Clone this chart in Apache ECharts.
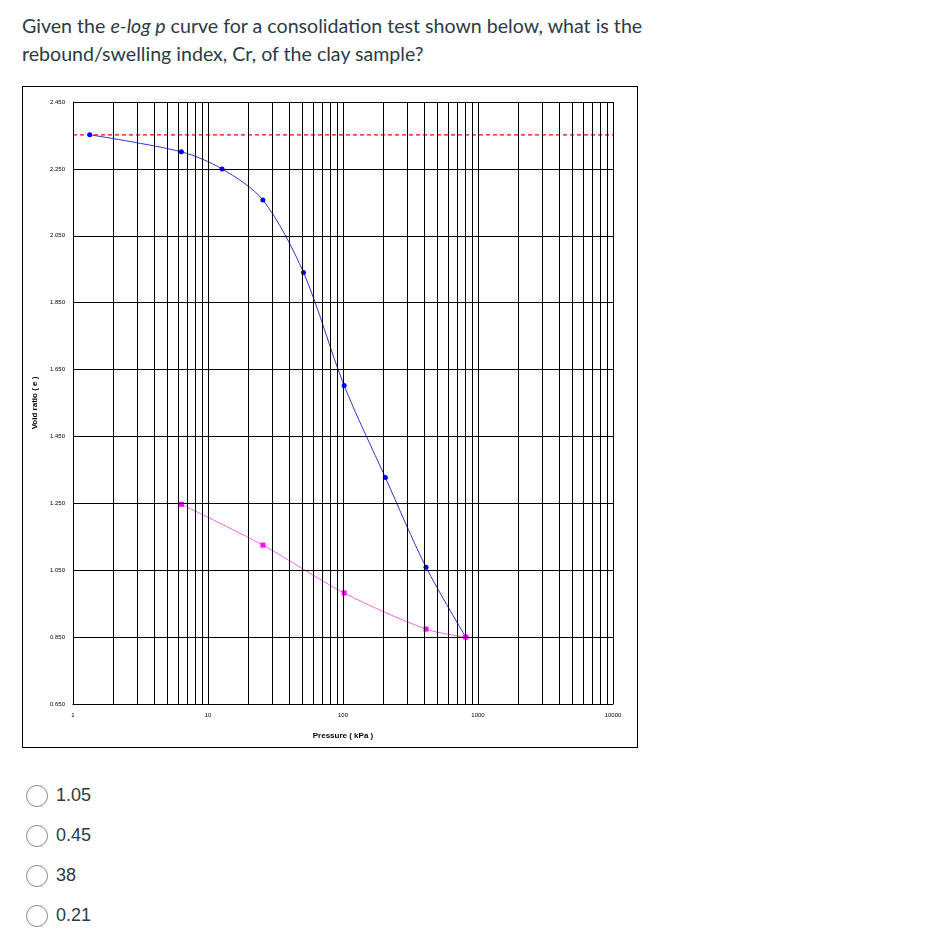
<!DOCTYPE html>
<html>
<head>
<meta charset="utf-8">
<script src="https://cdn.jsdelivr.net/npm/echarts@6/dist/echarts.min.js"></script>
<style>
  body { margin: 0; background: #fff; font-family: Lato, sans-serif; }
  #q { position: absolute; left: 22px; top: 12px; font-size: 19.6px; line-height: 28px; color: #2d3b45; }
  #box { position: absolute; left: 22px; top: 86px; width: 614px; height: 660px; border: 1px solid #000; }
  #chart { width: 614px; height: 660px; }
  .opt { position: absolute; left: 26px; font-family: "Liberation Sans", Arial, sans-serif; font-size: 18px; color: #2d3b45; }
  .opt span { display: inline-block; width: 20px; height: 20px; border: 1px solid #888; border-radius: 50%; vertical-align: middle; margin-right: 8px; }
</style>
</head>
<body>
<div id="q">Given the <i>e-log p</i> curve for a consolidation test shown below, what is the<br>rebound/swelling index, Cr, of the clay sample?</div>
<div id="box"><div id="chart"></div></div>
<div class="opt" style="top:785px"><span></span>1.05</div>
<div class="opt" style="top:825px"><span></span>0.45</div>
<div class="opt" style="top:865px"><span></span>38</div>
<div class="opt" style="top:905px"><span></span>0.21</div>
<script>
// loading branch
var loadP = [1.33, 6.35, 12.7, 25.5, 51, 102, 206, 412, 812];
var loadE = [2.352, 2.301, 2.25, 2.157, 1.94, 1.602, 1.327, 1.059, 0.85];
// unloading branch
var unloadP = [6.35, 25.5, 102, 412, 812];
var unloadE = [1.247, 1.125, 0.982, 0.874, 0.85];
var e0 = 2.352;
var yTicks = [0.65, 0.85, 1.05, 1.25, 1.45, 1.65, 1.85, 2.05, 2.25, 2.45];

var vLines = [];
for (var k = 0; k < 4; k++) for (var m = 1; m <= 10; m++) vLines.push({ xAxis: m * Math.pow(10, k) });
var hLines = yTicks.map(function (v) { return { yAxis: v }; });

var chart = echarts.init(document.getElementById('chart'));
chart.setOption({
  animation: false,
  grid: { left: 47, right: 24, top: 15, bottom: 43 },
  xAxis: {
    type: 'log', logBase: 10, min: 1, max: 10000,
    name: 'Pressure ( kPa )', nameLocation: 'middle', nameGap: 28,
    nameTextStyle: { fontSize: 8, fontWeight: 'bold', fontFamily: 'Liberation Sans' },
    axisLine: { lineStyle: { color: '#000' } },
    axisTick: { show: false }, splitLine: { show: false },
    axisLabel: { fontSize: 6, color: '#000', fontFamily: 'Liberation Sans', formatter: function (v) { return String(Math.round(v)); } }
  },
  yAxis: {
    type: 'value', min: 0.65, max: 2.45, interval: 0.05,
    name: 'Void ratio ( e )', nameLocation: 'middle', nameGap: 34,
    nameTextStyle: { fontSize: 8, fontWeight: 'bold', fontFamily: 'Liberation Sans' },
    axisLine: { show: true, lineStyle: { color: '#000' } },
    axisTick: { show: false }, splitLine: { show: false },
    axisLabel: {
      fontSize: 6, color: '#000', fontFamily: 'Liberation Sans',
      formatter: function (v) {
        var r = (v - 0.65) / 0.2;
        return Math.abs(r - Math.round(r)) < 1e-6 ? v.toFixed(3) : '';
      }
    }
  },
  series: [
    {
      type: 'line', data: [], silent: true,
      markLine: { symbol: 'none', silent: true, label: { show: false },
        lineStyle: { color: '#000', type: 'solid', width: 1 },
        data: vLines.concat(hLines) }
    },
    {
      type: 'line', data: [[1, e0], [10000, e0]], symbol: 'none',
      lineStyle: { color: '#f00', type: [4, 3], width: 1.2 }
    },
    {
      type: 'line', smooth: 0.3, symbol: 'circle', symbolSize: 5,
      data: loadP.map(function (p, i) { return [p, loadE[i]]; }),
      itemStyle: { color: '#0000ff' }, lineStyle: { color: '#3333cc', width: 1 }
    },
    {
      type: 'line', smooth: 0.3, symbol: 'rect', symbolSize: 5,
      data: unloadP.map(function (p, i) { return [p, unloadE[i]]; }),
      itemStyle: { color: '#ff00ff' }, lineStyle: { color: '#ee66ee', width: 1 }
    }
  ]
});
</script>
</body>
</html>
